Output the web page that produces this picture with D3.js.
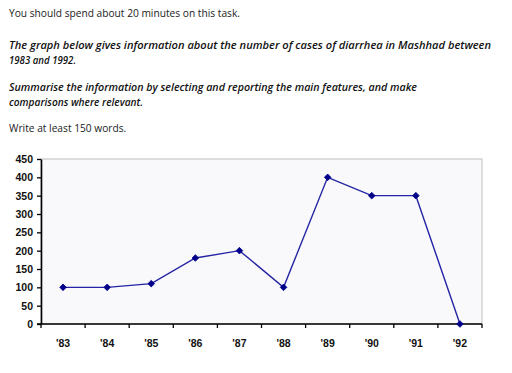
<!DOCTYPE html>
<html><head><meta charset="utf-8">
<script src="https://cdn.jsdelivr.net/npm/d3@7"></script>
<style>
html,body{margin:0;padding:0;background:#fff;}
svg{display:block;}
</style></head>
<body>
<svg id="c" width="512" height="373"></svg>
<script>
const categories = ["'83","'84","'85","'86","'87","'88","'89","'90","'91","'92"];
const cases = [100,100,110,180,200,100,400,350,350,0];
const yTicks = [0,50,100,150,200,250,300,350,400,450];
const introLines = [
  {text:"You should spend about 20 minutes on this task.", style:"normal", y:17},
  {text:"The graph below gives information about the number of cases of diarrhea in Mashhad between", style:"bi", y:49},
  {text:"1983 and 1992.", style:"bi", y:64},
  {text:"Summarise the information by selecting and reporting the main features, and make", style:"bi", y:91},
  {text:"comparisons where relevant.", style:"bi", y:106},
  {text:"Write at least 150 words.", style:"normal", y:132}
];

const svg = d3.select("#c");
const tf = "'Open Sans', 'Noto Sans', sans-serif";
svg.selectAll("text.intro").data(introLines).enter().append("text")
  .attr("class","intro")
  .attr("x",9).attr("y",d=>d.y)
  .attr("font-family",tf)
  .attr("font-size",d=>d.style==="bi"?"10.8px":"10.2px")
  .attr("font-style",d=>d.style==="bi"?"italic":"normal")
  .attr("font-weight",d=>d.style==="bi"?"600":"normal")
  .attr("fill",d=>d.style==="bi"?"#111":"#222")
  .text(d=>d.text);

const targetW = [230, 482, 67, 408, 134, 117];
svg.selectAll("text.intro").each(function(d,i){
  const w = this.getComputedTextLength();
  if (Math.abs(w-targetW[i])>2) {
    d3.select(this).attr("textLength",targetW[i]).attr("lengthAdjust","spacingAndGlyphs");
  }
});

const L=41, R=482, T=159, B=324;
const x = d3.scaleBand().domain(categories).range([L,R]);
const y = d3.scaleLinear().domain([0,450]).range([B,T]);

svg.append("rect").attr("x",L).attr("y",T).attr("width",R-L).attr("height",B-T)
  .attr("fill","#f9f9fb").attr("stroke","#c8c8c8").attr("stroke-width",1.2);

const yAxis = svg.append("g").attr("transform",`translate(${L},0)`)
  .call(d3.axisLeft(y).tickValues(yTicks).tickSize(4).tickPadding(4).tickSizeOuter(0));
const xAxis = svg.append("g").attr("transform",`translate(0,${B})`)
  .call(d3.axisBottom(x).tickSize(0).tickPadding(16).tickSizeOuter(0));
const bounds = categories.map(c=>x(c)).concat([R]);
xAxis.selectAll("line.b").data(bounds).enter().append("line").attr("class","b")
  .attr("x1",d=>d).attr("x2",d=>d).attr("y1",0).attr("y2",4)
  .attr("stroke","#000").attr("stroke-width",1.3);
[yAxis,xAxis].forEach(g=>{
  g.select(".domain").attr("stroke","#000").attr("stroke-width",1.6);
  g.selectAll(".tick line").attr("stroke","#000").attr("stroke-width",1.3);
  g.selectAll("text").attr("font-family","Arial, 'Liberation Sans', sans-serif")
    .attr("font-size","10.5px").attr("font-weight","bold").attr("fill","#111");
});
xAxis.select(".domain").attr("d",`M${L-4},0H${R}`);

const line = d3.line().x((d,i)=>x(categories[i])+x.bandwidth()/2).y(d=>y(d));
svg.append("path").datum(cases).attr("d",line).attr("fill","none")
  .attr("stroke","#2424a4").attr("stroke-width",1.4);
svg.selectAll("path.m").data(cases).enter().append("path").attr("class","m")
  .attr("d",d3.symbol().type(d3.symbolDiamond2).size(28))
  .attr("transform",(d,i)=>`translate(${x(categories[i])+x.bandwidth()/2},${y(d)})`)
  .attr("fill","#00008b").attr("stroke","#00008b").attr("stroke-width",0.8).attr("stroke-linejoin","round");
</script>
</body></html>
